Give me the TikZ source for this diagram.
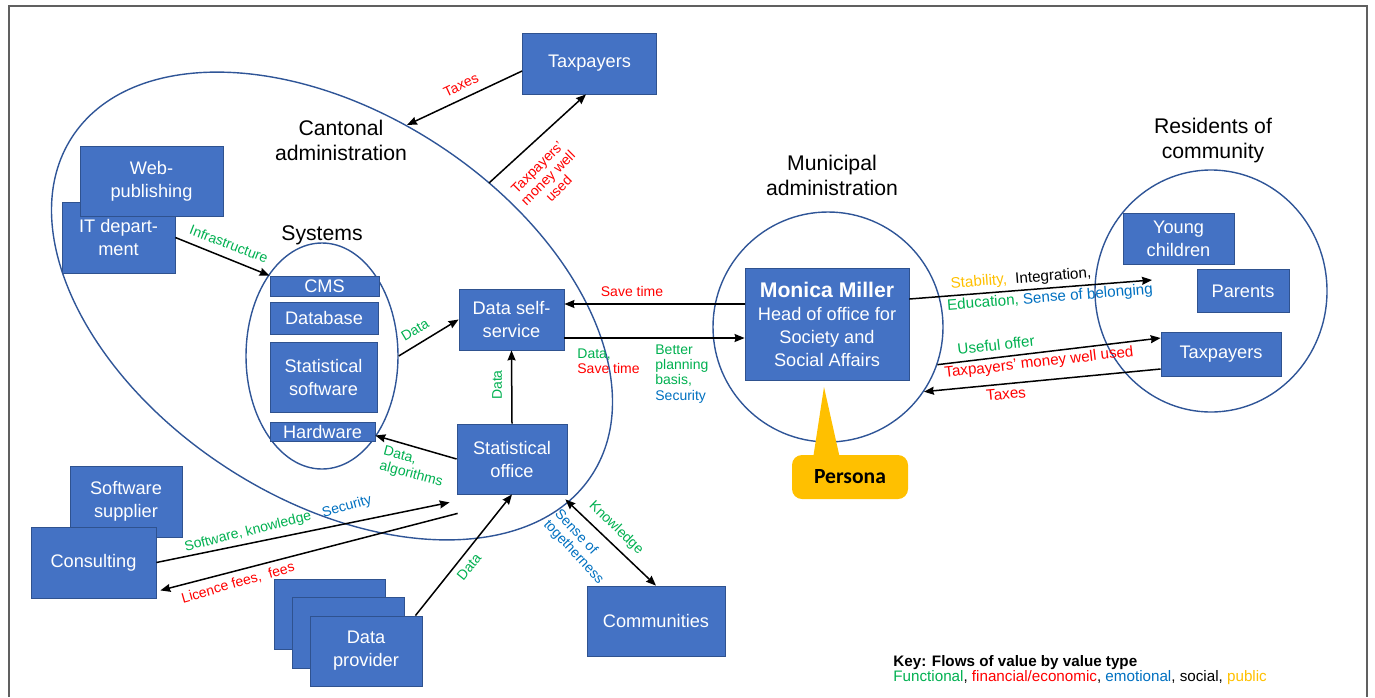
\documentclass[tikz,border=0pt]{standalone}
\usepackage{fontspec}
\setmainfont{Liberation Sans}
\newfontfamily\calibri{Carlito}
\usetikzlibrary{arrows.meta, shapes.geometric}

\definecolor{boxfill}{HTML}{4472C4}
\definecolor{boxline}{HTML}{2F528F}
\definecolor{ringline}{HTML}{2F5597}
\definecolor{fgreen}{HTML}{00B050}
\definecolor{fred}{HTML}{FF0000}
\definecolor{fblue}{HTML}{0070C0}
\definecolor{famber}{HTML}{FFC000}
\definecolor{framegrey}{HTML}{606060}

\newcommand{\boxfont}{\fontsize{9.1}{11.5}\selectfont}
\newcommand{\grpfont}{\fontsize{10.6}{12.5}\selectfont}
\newcommand{\lblfont}{\fontsize{7}{7.6}\selectfont}
\newcommand{\lblbigfont}{\fontsize{7.6}{8}\selectfont}

\begin{document}
\begin{tikzpicture}[
    x=0.5pt, y=-0.5pt,
    box/.style={draw=boxline, fill=boxfill, text=white, font=\boxfont, align=center, inner sep=1pt},
    grp/.style={font=\grpfont, align=center, inner sep=0pt},
    lbl/.style={font=\lblfont, align=center, inner sep=0pt},
    lblr/.style={font=\lblbigfont, align=center, inner sep=0pt},
    ring/.style={draw=ringline, line width=0.7pt, inner sep=0pt},
    arrow/.style={-{Stealth[length=5pt,width=4pt,inset=0.5pt]}, line width=0.75pt},
    dblarrow/.style={{Stealth[length=5pt,width=4pt,inset=0.5pt]}-{Stealth[length=5pt,width=4pt,inset=0.5pt]}, line width=0.75pt}
]
\useasboundingbox (0,0) rectangle (1375,697);

% frame
\draw[framegrey, line width=0.8pt] (9,697) -- (9,6) -- (1367,6) -- (1367,697);

% groups
\node[ring, ellipse, minimum width=310pt, minimum height=193pt, rotate=-33] (canton) at (332,306) {};
\node[ring, ellipse, minimum width=76pt, minimum height=113pt] (systems) at (322,356) {};
\node[ring, circle, minimum size=115pt] (muni) at (828,327) {};
\node[ring, ellipse, minimum width=116pt, minimum height=121pt] (resid) at (1211,291) {};

\node[grp] (cantlbl) at (341,140) {Cantonal\\administration};
\node[grp] (syslbl) at (322,235) {Systems};
\node[grp] (munilbl) at (832,175) {Municipal\\administration};
\node[grp] (residlbl) at (1213,141) {Residents of\\community};

% actors
\node[box, minimum width=67pt, minimum height=30.5pt] (taxtop) at (589.5,63.5) {Taxpayers};
\node[box, minimum width=56.5pt, minimum height=35.5pt] (itdept) at (118.5,237.5) {IT depart-\\ment};
\node[box, minimum width=71.5pt, minimum height=35pt] (webpub) at (151.5,181) {Web-\\publishing};
\node[box, minimum width=54.5pt, minimum height=10pt] (cms) at (324.5,286) {CMS};
\node[box, minimum width=54pt, minimum height=16pt] (database) at (324,318) {Database};
\node[box, minimum width=53.5pt, minimum height=35pt] (statsw) at (323.5,377) {Statistical\\software};
\node[box, minimum width=52.5pt, minimum height=9.5pt] (hardware) at (322.5,431.5) {Hardware};
\node[box, minimum width=52.5pt, minimum height=30.5pt] (dss) at (511.5,319.5) {Data self-\\service};
\node[box, minimum width=55pt, minimum height=35pt] (statoff) at (512,459) {Statistical\\office};
\node[box, minimum width=82pt, minimum height=56pt] (monica) at (827,324)
    {{\bfseries\fontsize{10.6}{12}\selectfont Monica Miller}\\Head of office for\\Society and\\Social Affairs};
\node[box, minimum width=55.5pt, minimum height=25.5pt] (young) at (1178.5,239) {Young\\children};
\node[box, minimum width=46pt, minimum height=21.5pt] (parents) at (1243,291) {Parents};
\node[box, minimum width=60pt, minimum height=22pt] (taxright) at (1221,354) {Taxpayers};
\node[box, minimum width=56pt, minimum height=35.5pt] (swsup) at (126,501.5) {Software\\supplier};
\node[box, minimum width=62.5pt, minimum height=35.5pt] (consult) at (93.5,562.5) {Consulting};
\node[box, minimum width=55.5pt, minimum height=35pt] (dpa) at (329.5,614) {};
\node[box, minimum width=56pt, minimum height=35.5pt] (dpb) at (348,632.5) {};
\node[box, minimum width=56pt, minimum height=35pt] (dpc) at (366,651) {Data\\provider};
\node[box, minimum width=69pt, minimum height=35pt] (communities) at (656,621) {Communities};

% persona callout
\node[fill=famber, rounded corners=5pt, minimum width=58pt, minimum height=22pt,
      font=\calibri\bfseries\fontsize{10.8}{12}\selectfont] (persona) at (850,477) {Persona};
\coordinate (personatip) at (824,387);
\fill[famber] ([xshift=-18.5pt,yshift=-2pt]persona.north) -- (personatip) -- ([xshift=-5pt,yshift=-2pt]persona.north) -- cycle;

% free ends
\coordinate (cantTax) at (407,125);
\coordinate (cantMoney) at (489,183);
\coordinate (residIn) at (1152,280);

% flows
\draw[arrow] ([yshift=-3.75pt]taxtop.west) -- (cantTax);
\draw[arrow] (cantMoney) -- ([xshift=-1.75pt]taxtop.south);
\draw[arrow] (itdept.east) -- (cms.north west);
\draw[arrow] (systems.east) -- (dss.west);
\draw[arrow] (statoff.north) -- (dss.south);
\draw[arrow] (statoff.west) -- ([yshift=-2pt]hardware.east);
\draw[arrow] ([yshift=10pt]monica.west) -- ([yshift=7.75pt]dss.east);
\draw[arrow] ([yshift=-9.25pt]dss.east) -- ([yshift=-7pt]monica.west);
\draw[arrow] ([yshift=12.5pt]monica.east) -- (residIn);
\draw[arrow] (muni.-19) -- ([yshift=8pt]taxright.west);
\draw[arrow] ([yshift=-7.5pt]taxright.west) -- (muni.-34);
\draw[arrow] (consult.east) -- ([xshift=-3.5pt,yshift=-4pt]statoff.south west);
\draw[arrow] ([xshift=0.5pt,yshift=-9.5pt]statoff.south west) -- ([xshift=2pt,yshift=4pt]consult.south east);
\draw[arrow] ([xshift=-3.5pt]dpc.north east) -- (statoff.south);
\draw[dblarrow] ([xshift=-1pt,yshift=-2.5pt]statoff.south east) -- (communities.north);

% flow labels
\node[lbl, text=fred, rotate=25] (lTaxTop) at (461,85) {Taxes};
\node[lbl, text=fred, rotate=45] (lMoney) at (548,178) {Taxpayers'\\money well\\used};
\node[lbl, text=fgreen, rotate=-21] (lInfra) at (229,244) {Infrastructure};
\node[lbl, text=fgreen, rotate=31] (lDataSys) at (415,330) {Data};
\node[lbl, text=fgreen, rotate=90] (lDataVert) at (497,385) {Data};
\node[lbl, text=fgreen, rotate=-15, align=left] (lDataAlg) at (413,467) {Data,\\algorithms};
\node[lbl, text=fred] (lSaveTop) at (632,291) {Save time};
\node[lbl, anchor=west, align=left] (lDataSave) at (577,361) {\textcolor{fgreen}{Data,}\\\textcolor{fred}{Save time}};
\node[lbl, anchor=west, align=left] (lBetter) at (655,374)
    {\textcolor{fgreen}{Better}\\\textcolor{fgreen}{planning}\\\textcolor{fgreen}{basis,}\\\textcolor{fblue}{Security}};
\node[lblr, rotate=4.5] (lStab) at (1021,279) {\textcolor{famber}{Stability,}\ \ Integration,};
\node[lblr, rotate=4.5] (lEduc) at (1050,298) {\textcolor{fgreen}{Education,} \textcolor{fblue}{Sense of belonging}};
\node[lblr, text=fgreen, rotate=6.5] (lUseful) at (996,345) {Useful offer};
\node[lblr, text=fred, rotate=6.5] (lMoneyR) at (1039,363) {Taxpayers' money well used};
\node[lblr, text=fred, rotate=5] (lTaxR) at (1006,394) {Taxes};
\node[lbl, text=fgreen, rotate=14] (lSwKn) at (248,532) {Software, knowledge};
\node[lbl, text=fblue, rotate=16] (lSec) at (347,507) {Security};
\node[lbl, text=fred, rotate=16] (lLicence) at (238,583) {Licence fees,\ \ fees};
\node[lbl, text=fgreen, rotate=51] (lDataDP) at (469,567) {Data};
\node[lbl, text=fgreen, rotate=-44] (lKnow) at (616,528) {Knowledge};
\node[lbl, text=fblue, rotate=-47, align=left] (lSenseTog) at (579,547) {Sense of\\togetherness};

% key
\node[anchor=west, align=left, inner sep=0pt, font=\fontsize{7.6}{7.8}\selectfont] (key) at (893,670)
    {\textbf{Key: Flows of value by value type}\\\textcolor{fgreen}{Functional}, \textcolor{fred}{financial/economic}, \textcolor{fblue}{emotional}, social, \textcolor{famber}{public}};

\end{tikzpicture}
\end{document}
